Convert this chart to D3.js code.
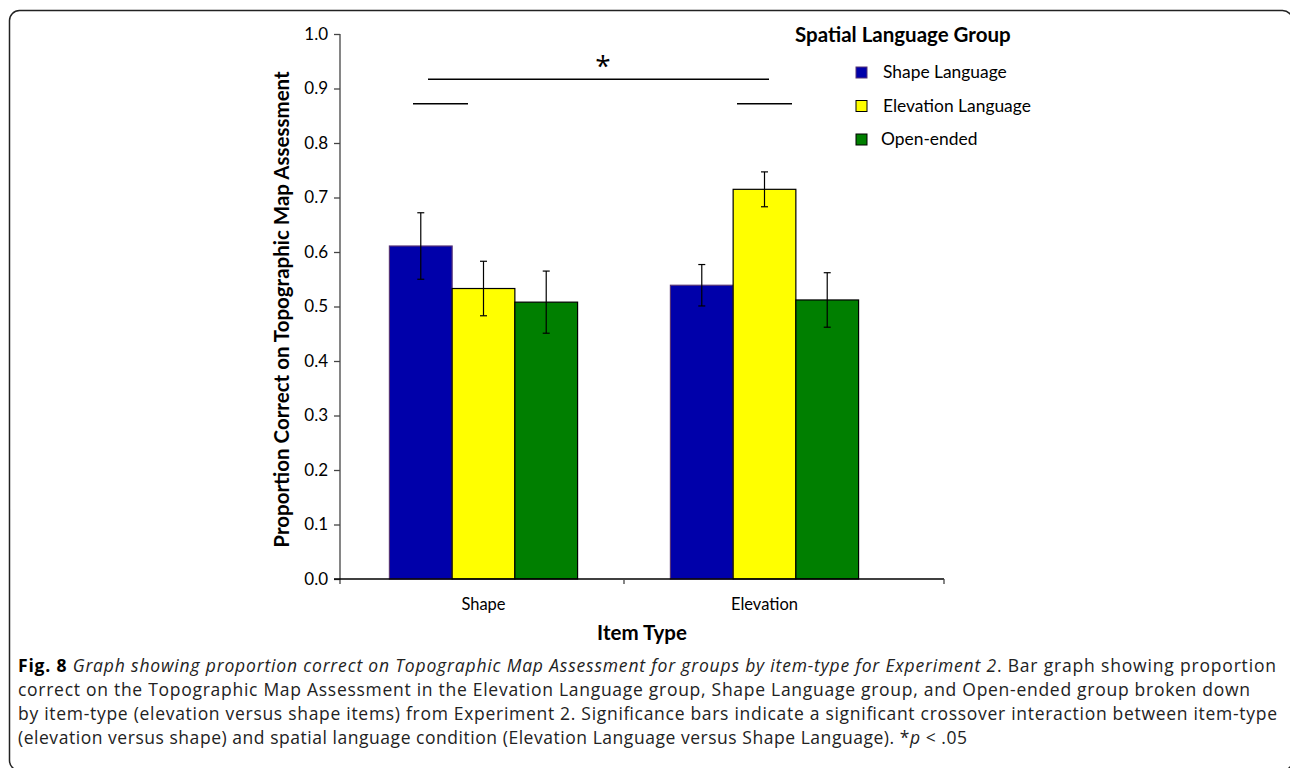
<!DOCTYPE html>
<html>
<head>
<meta charset="utf-8">
<script src="https://cdn.jsdelivr.net/npm/d3@7"></script>
<style>
  body { margin: 0; background: #fff; }
  .chart text { font-family: Lato, 'Open Sans', sans-serif; fill: #000; }
  .chart text.caption { font-family: 'Open Sans', sans-serif; font-size: 17.5px; fill: #222; }
</style>
</head>
<body>
<div id="chart"></div>
<script>
// data
const itemTypes = ['Shape', 'Elevation']
const groups = ['Shape Language', 'Elevation Language', 'Open-ended']
const groupColors = ['#0000aa', '#ffff00', '#007f00']
const means = {
  'Shape Language': [0.611, 0.539],
  'Elevation Language': [0.533, 0.715],
  'Open-ended': [0.508, 0.512]
}
const errors = {
  'Shape Language': [0.061, 0.038],
  'Elevation Language': [0.050, 0.032],
  'Open-ended': [0.057, 0.050]
}
const yTicks = [0, 0.1, 0.2, 0.3, 0.4, 0.5, 0.6, 0.7, 0.8, 0.9, 1.0]
const captionLines = [
  [['b', 'Fig. 8 '], ['i', 'Graph showing proportion correct on Topographic Map Assessment for groups by item-type for Experiment 2'], ['n', '. Bar graph showing proportion']],
  [['n', 'correct on the Topographic Map Assessment in the Elevation Language group, Shape Language group, and Open-ended group broken down']],
  [['n', 'by item-type (elevation versus shape items) from Experiment 2. Significance bars indicate a significant crossover interaction between item-type']],
  [['n', '(elevation versus shape) and spatial language condition (Elevation Language versus Shape Language). *'], ['i', 'p'], ['n', ' < .05']]
]
// line widths of the caption as printed
const captionWidths = [1258, 1232, 1259, 949]

const W = 1290
const H = 768
const plot = { left: 340, right: 944, top: 34, bottom: 579 }

const svg = d3.select('#chart').append('svg')
  .attr('class', 'chart')
  .attr('width', W)
  .attr('height', H)

// frame
svg.append('rect')
  .attr('x', 9.5).attr('y', 10.5)
  .attr('width', 1283).attr('height', 760)
  .attr('rx', 10)
  .attr('fill', 'none')
  .attr('stroke', '#222')
  .attr('stroke-width', 1.5)

const yScale = d3.scaleLinear()
  .domain([0, 1])
  .range([plot.bottom, plot.top])

const xScale = d3.scaleBand()
  .domain(itemTypes)
  .range([343, 905])

const xInner = d3.scaleBand()
  .domain(groups)
  .range([0, xScale.bandwidth()])
  .paddingOuter(0.74)

const g = svg.append('g')

// bars
groups.forEach((grp, gi) => {
  const bars = g.append('g')
  itemTypes.forEach((it, i) => {
    const x0 = xScale(it) + xInner(grp)
    const v = means[grp][i]
    bars.append('rect')
      .attr('x', x0)
      .attr('y', yScale(v))
      .attr('width', xInner.bandwidth())
      .attr('height', yScale(0) - yScale(v))
      .attr('fill', groupColors[gi])
      .attr('stroke', gi === 0 ? '#553377' : '#000')
      .attr('stroke-width', 1.2)

    const cx = x0 + xInner.bandwidth() / 2
    const e = errors[grp][i]
    bars.append('line')
      .attr('x1', cx).attr('x2', cx)
      .attr('y1', yScale(v + e)).attr('y2', yScale(v - e))
      .attr('stroke', '#000').attr('stroke-width', 1.2)
    ;[v + e, v - e].forEach(t => {
      bars.append('line')
        .attr('x1', cx - 3.5).attr('x2', cx + 3.5)
        .attr('y1', yScale(t)).attr('y2', yScale(t))
        .attr('stroke', '#000').attr('stroke-width', 1.2)
    })
  })
})

// y axis
const yAxis = g.append('g')
  .attr('transform', 'translate(' + plot.left + ',0)')
  .call(d3.axisLeft(yScale).tickValues(yTicks).tickFormat(d3.format('.1f')).tickSize(6).tickSizeOuter(0))
yAxis.select('.domain').attr('stroke', '#444').attr('stroke-width', 1.3)
  .attr('d', 'M0,' + plot.top + 'V' + (plot.bottom + 5))
yAxis.selectAll('.tick line').attr('stroke', '#444').attr('stroke-width', 1.3)
yAxis.selectAll('.tick text').attr('font-size', 17).attr('dx', -3)
  .style('font-family', 'Lato, sans-serif')

// x axis
g.append('line')
  .attr('x1', plot.left - 6).attr('x2', plot.right)
  .attr('y1', plot.bottom).attr('y2', plot.bottom)
  .attr('stroke', '#000').attr('stroke-width', 1.3)
;[xScale('Elevation'), plot.right].forEach(t => {
  g.append('line')
    .attr('x1', t).attr('x2', t)
    .attr('y1', plot.bottom).attr('y2', plot.bottom + 5)
    .attr('stroke', '#444').attr('stroke-width', 1.3)
})
itemTypes.forEach(it => {
  g.append('text')
    .attr('x', xScale(it) + xInner(groups[1]) + xInner.bandwidth() / 2)
    .attr('y', plot.bottom + 31)
    .attr('text-anchor', 'middle')
    .attr('font-size', 16.5)
    .text(it)
})

// axis titles
g.append('text')
  .attr('x', 642).attr('y', 640)
  .attr('text-anchor', 'middle')
  .attr('font-size', 20.5).attr('font-weight', 'bold')
  .text('Item Type')
g.append('text')
  .attr('transform', 'translate(289,' + ((plot.top + plot.bottom) / 2 + 3) + ') rotate(-90)')
  .attr('text-anchor', 'middle')
  .attr('font-size', 20.5).attr('font-weight', 'bold')
  .text('Proportion Correct on Topographic Map Assessment')

// significance bars
const sig = g.append('g').attr('stroke', '#000').attr('stroke-width', 1.5)
sig.append('line')
  .attr('x1', 428).attr('x2', 769)
  .attr('y1', yScale(0.917)).attr('y2', yScale(0.917))
sig.append('line')
  .attr('x1', 413).attr('x2', 468)
  .attr('y1', yScale(0.872)).attr('y2', yScale(0.872))
sig.append('line')
  .attr('x1', 737).attr('x2', 792)
  .attr('y1', yScale(0.872)).attr('y2', yScale(0.872))
g.append('text')
  .attr('x', 603).attr('y', yScale(0.917) - 3)
  .attr('text-anchor', 'middle')
  .attr('font-size', 28)
  .style('font-family', "'Open Sans', sans-serif")
  .text('*')

// legend
const legend = g.append('g')
legend.append('text')
  .attr('x', 795).attr('y', 42)
  .attr('font-size', 20.5).attr('font-weight', 'bold')
  .text('Spatial Language Group')
groups.forEach((grp, gi) => {
  const ly = 72 + gi * 33.5
  legend.append('rect')
    .attr('x', 856).attr('y', ly - 5)
    .attr('width', 11).attr('height', 11)
    .attr('fill', groupColors[gi])
    .attr('stroke', gi === 0 ? '#553377' : '#000')
    .attr('stroke-width', 1)
  legend.append('text')
    .attr('x', gi === 2 ? 881 : 883).attr('y', ly + 6)
    .attr('font-size', 17.4)
    .text(grp)
})

// caption, one text per printed line
captionLines.forEach((line, li) => {
  const cap = svg.append('text')
    .attr('class', 'caption')
    .attr('x', 18)
    .attr('y', 672 + li * 24)
    .attr('textLength', captionWidths[li])
    .attr('lengthAdjust', 'spacing')
  line.forEach(([style, str]) => {
    const t = cap.append('tspan').text(str)
    if (style === 'b') t.attr('font-weight', 'bold').attr('fill', '#000')
    if (style === 'i') t.attr('font-style', 'italic')
  })
})
</script>
</body>
</html>
